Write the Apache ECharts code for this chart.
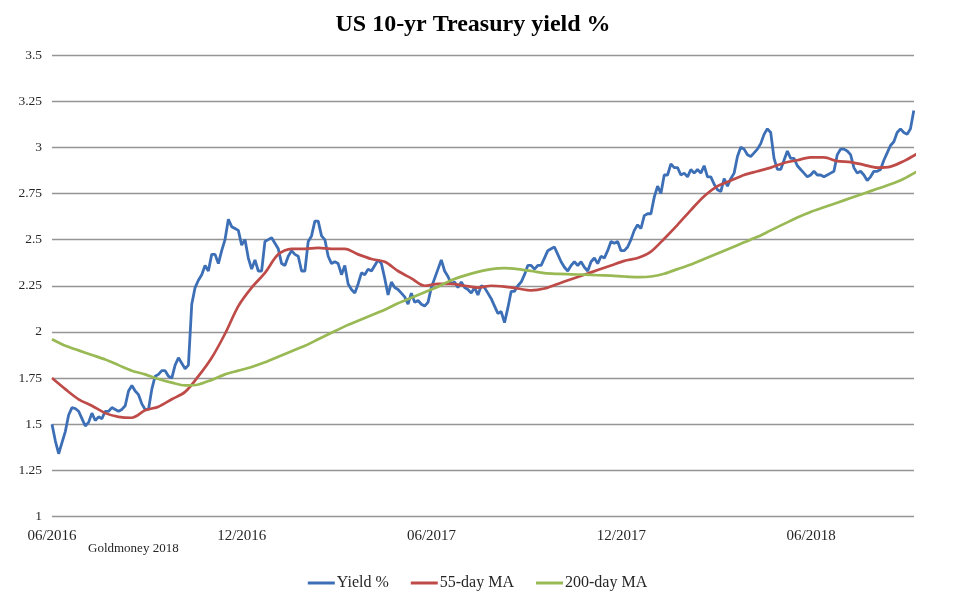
<!DOCTYPE html>
<html>
<head>
<meta charset="utf-8">
<script src="https://cdn.jsdelivr.net/npm/echarts@6/dist/echarts.min.js"></script>
<style>
html,body{margin:0;padding:0;background:#fff;}
#chart{width:955px;height:602px;}
</style>
</head>
<body>
<div id="chart"></div>
<script>
// x axis: days since 27 June 2016
const tickLabels = ['06/2016', '12/2016', '06/2017', '12/2017', '06/2018'];
const tickStepDays = 182.5;
const axisEndDay = 829;

// US 10-yr yield, one reading every 3.2 days from the start
const yieldStepDays = 3.2;
const yieldValues = [
  1.50, 1.41, 1.34, 1.40, 1.46, 1.55, 1.59, 1.585, 1.57, 1.53,
  1.49, 1.51, 1.56, 1.52, 1.54, 1.53, 1.57, 1.57, 1.59, 1.58,
  1.57, 1.58, 1.60, 1.68, 1.71, 1.68, 1.66, 1.61, 1.58, 1.58,
  1.69, 1.76, 1.77, 1.79, 1.79, 1.76, 1.75, 1.82, 1.86, 1.83,
  1.80, 1.82, 2.15, 2.24, 2.28, 2.31, 2.36, 2.33, 2.42, 2.42,
  2.37, 2.44, 2.50, 2.61, 2.57, 2.56, 2.55, 2.47, 2.50, 2.40,
  2.34, 2.39, 2.33, 2.33, 2.49, 2.50, 2.51, 2.48, 2.45, 2.37,
  2.36, 2.41, 2.44, 2.42, 2.41, 2.33, 2.33, 2.49, 2.52, 2.60,
  2.60, 2.52, 2.50, 2.41, 2.37, 2.38, 2.37, 2.31, 2.36, 2.26,
  2.23, 2.21, 2.26, 2.32, 2.31, 2.34, 2.33, 2.36, 2.39, 2.37,
  2.29, 2.20, 2.27, 2.24, 2.23, 2.21, 2.19, 2.15, 2.21, 2.16,
  2.17, 2.15, 2.14, 2.16, 2.24, 2.29, 2.34, 2.39, 2.33, 2.30,
  2.26, 2.27, 2.24, 2.27, 2.24, 2.23, 2.21, 2.24, 2.20, 2.25,
  2.24, 2.21, 2.18, 2.14, 2.10, 2.11, 2.05, 2.13, 2.22, 2.22,
  2.25, 2.27, 2.31, 2.36, 2.36, 2.34, 2.36, 2.36, 2.40, 2.44,
  2.45, 2.46, 2.42, 2.38, 2.35, 2.33, 2.36, 2.38, 2.36, 2.38,
  2.35, 2.33, 2.38, 2.40, 2.37, 2.41, 2.40, 2.44, 2.49, 2.48,
  2.49, 2.44, 2.44, 2.46, 2.50, 2.55, 2.58, 2.56, 2.63, 2.64,
  2.64, 2.73, 2.79, 2.75, 2.85, 2.85, 2.91, 2.89, 2.89, 2.85,
  2.86, 2.84, 2.88, 2.86, 2.88, 2.86, 2.90, 2.84, 2.84, 2.80,
  2.77, 2.76, 2.83, 2.79, 2.83, 2.86, 2.95, 3.00, 2.99, 2.96,
  2.95, 2.97, 2.99, 3.02, 3.07, 3.10, 3.08, 2.94, 2.88, 2.88,
  2.93, 2.98, 2.94, 2.94, 2.90, 2.88, 2.86, 2.84, 2.85, 2.87,
  2.85, 2.85, 2.84, 2.85, 2.86, 2.87, 2.96, 2.99, 2.99, 2.98,
  2.96, 2.89, 2.86, 2.87, 2.85, 2.82, 2.84, 2.87, 2.87, 2.88,
  2.93, 2.97, 3.01, 3.03, 3.08, 3.10, 3.08, 3.07, 3.10, 3.20
];

// moving averages, one reading every 12.8 days from the start
const maStepDays = 12.8;
const ma55Values = [
  1.75, 1.69, 1.635, 1.60, 1.56, 1.54, 1.535, 1.575, 1.595, 1.635,
  1.675, 1.76, 1.86, 1.99, 2.14, 2.24, 2.32, 2.42, 2.45, 2.45,
  2.455, 2.45, 2.45, 2.42, 2.395, 2.38, 2.33, 2.29, 2.25, 2.26,
  2.26, 2.25, 2.24, 2.25, 2.245, 2.235, 2.225, 2.235, 2.26, 2.285,
  2.31, 2.335, 2.36, 2.385, 2.40, 2.435, 2.505, 2.58, 2.66, 2.735,
  2.79, 2.82, 2.85, 2.87, 2.89, 2.915, 2.93, 2.945, 2.945, 2.925,
  2.92, 2.905, 2.89, 2.895, 2.925, 2.965
];
const ma200Values = [
  1.96, 1.925, 1.90, 1.875, 1.85, 1.82, 1.79, 1.77, 1.745, 1.725,
  1.71, 1.715, 1.74, 1.77, 1.79, 1.81, 1.835, 1.865, 1.895, 1.925,
  1.96, 1.995, 2.03, 2.06, 2.09, 2.12, 2.155, 2.185, 2.215, 2.245,
  2.28, 2.305, 2.325, 2.34, 2.345, 2.34, 2.33, 2.318, 2.314, 2.312,
  2.31, 2.307, 2.305, 2.30, 2.297, 2.30, 2.315, 2.34, 2.365, 2.395,
  2.425, 2.455, 2.485, 2.515, 2.55, 2.585, 2.62, 2.65, 2.675, 2.70,
  2.725, 2.75, 2.775, 2.80, 2.83, 2.87
];

const seriesNames = ['Yield %', '55-day MA', '200-day MA'];
const seriesColors = ['#3d6fb6', '#be4b48', '#98b954'];

const toPairs = (vals, step) => vals.map((v, i) => [i * step, v]);

const serif = '"Liberation Serif", "DejaVu Serif", serif';
const chart = echarts.init(document.getElementById('chart'), null, {renderer: 'canvas'});

chart.setOption({
  animation: false,
  backgroundColor: '#ffffff',
  title: {
    text: 'US 10-yr Treasury yield %',
    left: 468,
    textAlign: 'center',
    top: 8,
    textStyle: {fontFamily: serif, fontSize: 24, fontWeight: 'bold', color: '#000'}
  },
  grid: {left: 52, right: 41, top: 55, bottom: 85.5, containLabel: false},
  xAxis: {
    type: 'value',
    min: 0,
    max: axisEndDay,
    interval: tickStepDays,
    axisLine: {show: false},
    axisTick: {show: false},
    splitLine: {show: false},
    axisLabel: {
      margin: 12,
      showMaxLabel: false,
      fontFamily: serif,
      fontSize: 15,
      color: '#262626',
      formatter: v => {
        const k = Math.round(v / tickStepDays);
        return Math.abs(v - k * tickStepDays) < 0.01 && tickLabels[k] ? tickLabels[k] : '';
      }
    }
  },
  yAxis: {
    type: 'value',
    min: 1,
    max: 3.5,
    interval: 0.25,
    axisLine: {show: false},
    axisTick: {show: false},
    splitLine: {show: true, lineStyle: {color: '#959595', width: 1.4}},
    axisLabel: {
      margin: 10,
      fontFamily: serif,
      fontSize: 13.5,
      color: '#262626',
      formatter: v => String(+v.toFixed(2))
    }
  },
  legend: {
    data: seriesNames,
    top: 570,
    left: 'center',
    icon: 'rect',
    itemWidth: 27,
    itemHeight: 3,
    itemGap: 22,
    textStyle: {fontFamily: serif, fontSize: 16, color: '#262626', padding: [0, 0, 0, -3]}
  },
  graphic: [{
    type: 'text',
    left: 88,
    top: 542,
    style: {text: 'Goldmoney 2018', font: '13px ' + serif, fill: '#262626'}
  }],
  series: [
    {
      name: seriesNames[0], type: 'line', data: toPairs(yieldValues, yieldStepDays),
      showSymbol: false, symbol: 'none', clip: true,
      lineStyle: {color: seriesColors[0], width: 2.8}, itemStyle: {color: seriesColors[0]}
    },
    {
      name: seriesNames[1], type: 'line', data: toPairs(ma55Values, maStepDays),
      showSymbol: false, symbol: 'none', smooth: 0.3, clip: true,
      lineStyle: {color: seriesColors[1], width: 2.7}, itemStyle: {color: seriesColors[1]}
    },
    {
      name: seriesNames[2], type: 'line', data: toPairs(ma200Values, maStepDays),
      showSymbol: false, symbol: 'none', smooth: 0.3, clip: true,
      lineStyle: {color: seriesColors[2], width: 2.7}, itemStyle: {color: seriesColors[2]}
    }
  ]
});
</script>
</body>
</html>
